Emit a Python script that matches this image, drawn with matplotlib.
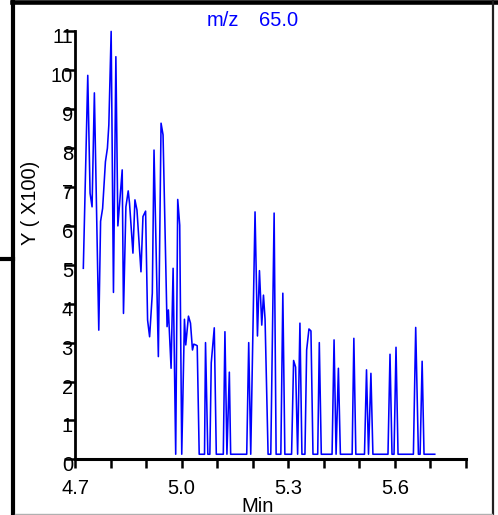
import matplotlib
matplotlib.use("Agg")
import matplotlib.pyplot as plt
import matplotlib.transforms as mtransforms
from matplotlib.lines import Line2D

plt.rcParams['font.family'] = ['Liberation Sans', 'DejaVu Sans']

# Retention time (min) and intensity (x100)
time_min = [
    4.7234, 4.7359, 4.7424, 4.7480, 4.7545, 4.7669, 4.7720, 4.7777, 4.7856, 4.7912,
    4.7952, 4.8017, 4.8082, 4.8150, 4.8206, 4.8328, 4.8364, 4.8432, 4.8497, 4.8534,
    4.8630, 4.8686, 4.8743, 4.8856, 4.8912, 4.8986, 4.9042, 4.9099, 4.9175, 4.9223,
    4.9345, 4.9421, 4.9477, 4.9590, 4.9627, 4.9703, 4.9760, 4.9833, 4.9890, 4.9946,
    5.0003, 5.0079, 5.0116, 5.0192, 5.0249, 5.0305, 5.0342, 5.0398, 5.0438, 5.0494,
    5.0644, 5.0672, 5.0737, 5.0794, 5.0833, 5.0918, 5.0975, 5.1172, 5.1218, 5.1274,
    5.1342, 5.1379, 5.1831, 5.1887, 5.1944, 5.2065, 5.2133, 5.2189, 5.2254, 5.2302,
    5.2347, 5.2432, 5.2508, 5.2602, 5.2658, 5.2791, 5.2847, 5.2904, 5.3093, 5.3150,
    5.3206, 5.3263, 5.3328, 5.3384, 5.3469, 5.3517, 5.3582, 5.3638, 5.3695, 5.3828,
    5.3873, 5.3929, 5.4232, 5.4288, 5.4345, 5.4410, 5.4466, 5.4797, 5.4845, 5.4901,
    5.5144, 5.5201, 5.5257, 5.5325, 5.5381, 5.5805, 5.5862, 5.5918, 5.5975, 5.6031,
    5.6088, 5.6520, 5.6585, 5.6661, 5.6709, 5.6766, 5.6819, 5.7121,
]
intensity = [
    4.91, 9.87, 6.84, 6.49, 9.42, 3.32, 6.12, 6.45, 7.65, 8.00,
    8.60, 11.00, 4.29, 10.35, 6.00, 7.44, 3.75, 6.49, 6.90, 6.58,
    5.30, 6.67, 6.41, 4.82, 6.24, 6.38, 3.58, 3.15, 4.27, 7.95,
    2.64, 8.64, 8.34, 3.41, 3.84, 2.34, 4.91, 0.13, 6.68, 6.02,
    0.13, 3.60, 2.94, 3.68, 3.50, 2.81, 2.96, 2.94, 2.92, 0.13,
    0.13, 3.00, 0.13, 0.13, 2.48, 3.38, 0.13, 0.13, 3.28, 0.13,
    2.24, 0.13, 0.13, 3.00, 0.13, 6.36, 3.17, 4.85, 3.45, 4.22,
    3.60, 0.13, 0.13, 6.33, 0.13, 0.13, 4.27, 0.13, 0.13, 2.54,
    2.37, 0.13, 3.50, 0.13, 0.13, 2.81, 3.35, 3.30, 0.13, 0.13,
    3.00, 0.13, 0.13, 3.07, 0.13, 2.34, 0.13, 0.13, 3.11, 0.13,
    0.13, 2.30, 0.13, 2.21, 0.13, 0.13, 2.70, 0.13, 0.13, 2.88,
    0.13, 0.13, 3.39, 0.13, 0.13, 2.52, 0.13, 0.13,
]

major_x = [4.7, 5.0, 5.3, 5.6]
major_x_labels = ["4.7", "5.0", "5.3", "5.6"]
minor_x = [4.8, 4.9, 5.1, 5.2, 5.4, 5.5, 5.7, 5.8]
y_ticks = list(range(0, 12))

W, H = 498, 515
fig = plt.figure(figsize=(W / 100, H / 100), dpi=100)

def fx(px):
    return px / W

def fy(py):
    return 1 - py / H

ax = fig.add_axes([fx(75), fy(459.3), fx(466) - fx(75), fy(31.4) - fy(459.3)])
ax.plot(time_min, intensity, color='#0000ff', lw=1.15, clip_on=False)
ax.set_xlim(4.7, 5.8)
ax.set_ylim(0, 11)

for s in ['top', 'right']:
    ax.spines[s].set_visible(False)
ax.spines['left'].set_linewidth(2.0)
ax.spines['bottom'].set_linewidth(2.2)

ax.set_xticks(major_x)
ax.set_xticklabels(major_x_labels)
ax.set_xticks(minor_x, minor=True)
ax.set_yticks(y_ticks)
ax.set_yticklabels([str(v) for v in y_ticks])
ax.tick_params(axis='x', which='both', direction='out', length=6.5, width=1.8,
               labelsize=14.5, pad=8)
ax.tick_params(axis='y', which='major', direction='out', length=8, width=1.8,
               labelsize=14.5, pad=-6.5)

offset = mtransforms.ScaledTranslation(0, -4.5 / 100, fig.dpi_scale_trans)
for t in ax.yaxis.get_major_ticks():
    t.label1.set_transform(t.label1.get_transform() + offset)

# Texts
fig.text(fx(207), fy(26), "m/z", color='#0000ff', fontsize=14.5, ha='left', va='baseline')
fig.text(fx(259), fy(26), "65.0", color='#0000ff', fontsize=14.5, ha='left', va='baseline')
fig.text(fx(31), fy(203), "Y ( X100)", rotation=90, fontsize=14.5, ha='center', va='center')
fig.text(fx(258), fy(496.5), "Min", fontsize=14.5, ha='center', va='top')

# Outer frame decorations
tf = fig.transFigure
fig.add_artist(Line2D([fx(12), fx(496)], [fy(2.2), fy(2.2)], color='black', lw=3.3, transform=tf))
fig.add_artist(Line2D([fx(13), fx(13)], [fy(0), fy(515)], color='black', lw=3.0, transform=tf))
fig.add_artist(Line2D([fx(0), fx(13)], [fy(259), fy(259)], color='black', lw=3.0, transform=tf))
fig.add_artist(Line2D([fx(492.5), fx(492.5)], [fy(0), fy(515)], color='#202020', lw=1.6, transform=tf))
fig.add_artist(Line2D([fx(15), fx(492)], [fy(513.5), fy(513.5)], color='#b0b0b0', lw=1.0, transform=tf))

fig.savefig("out.png", dpi=100)
